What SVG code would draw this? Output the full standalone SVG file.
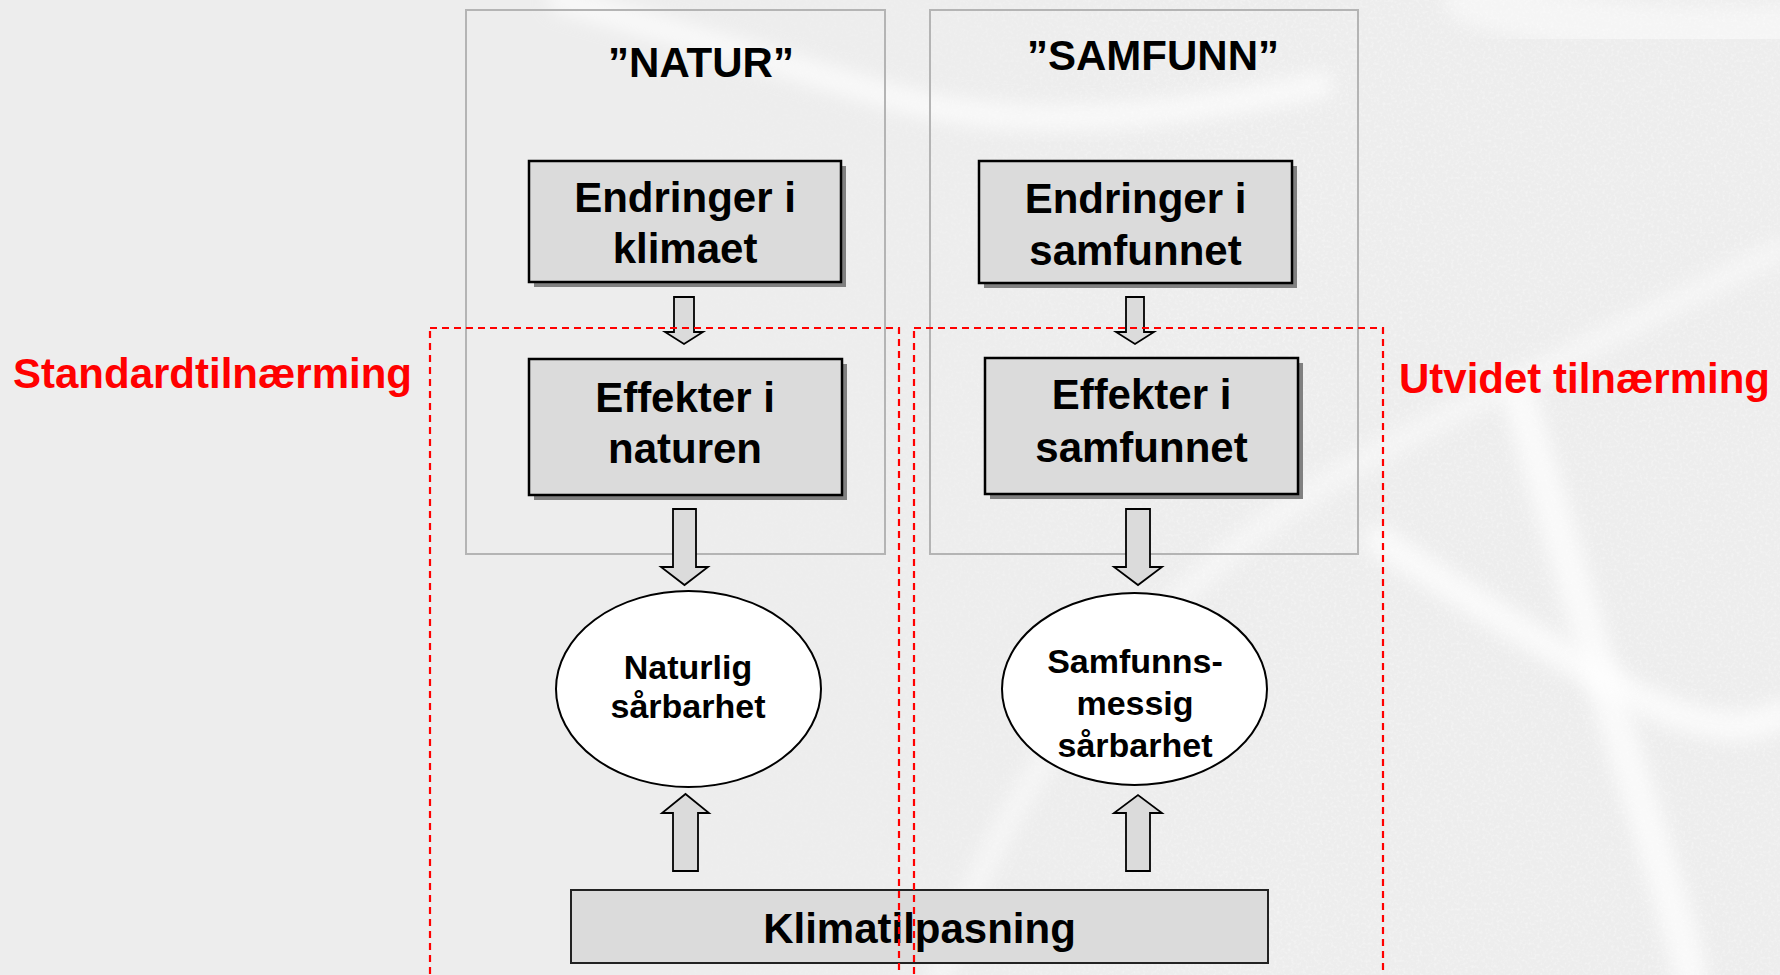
<svg xmlns="http://www.w3.org/2000/svg" width="1780" height="975" viewBox="0 0 1780 975">
  <defs>
    <filter id="soft" x="-20%" y="-20%" width="140%" height="140%">
      <feGaussianBlur stdDeviation="9"/>
    </filter>
    <filter id="grain" x="0" y="0" width="100%" height="100%">
      <feTurbulence type="fractalNoise" baseFrequency="0.35" numOctaves="2" seed="3" result="n"/>
      <feColorMatrix in="n" type="matrix" values="0 0 0 0 1  0 0 0 0 1  0 0 0 0 1  0 0 0 1.6 -0.75"/>
    </filter>
    <linearGradient id="fade" x1="0" y1="0" x2="1" y2="0">
      <stop offset="0" stop-color="#fff" stop-opacity="0"/>
      <stop offset="0.35" stop-color="#fff" stop-opacity="0"/>
      <stop offset="0.7" stop-color="#fff" stop-opacity="1"/>
      <stop offset="1" stop-color="#fff" stop-opacity="1"/>
    </linearGradient>
    <mask id="rightMask">
      <rect x="0" y="0" width="1780" height="975" fill="url(#fade)"/>
    </mask>
    <style>
      .txt { font-family: "Liberation Sans", Arial, Helvetica, sans-serif; font-weight: bold; }
      .lbl { font-size: 42px; fill: #000; text-anchor: middle; }
      .ell { font-size: 34px; fill: #000; text-anchor: middle; }
      .red { font-size: 42px; fill: #FF0000; }
      .frame { fill: none; stroke: #B4B4B4; stroke-width: 2; }
      .box { fill: #DBDBDB; stroke: #000; stroke-width: 2.5; }
      .shadow { fill: #808080; }
      .oval { fill: #FFFFFF; stroke: #000; stroke-width: 2; }
      .arrow { fill: #DBDBDB; stroke: #000; stroke-width: 1.8; stroke-linejoin: miter; }
      .dash { fill: none; stroke: #FF0000; stroke-width: 2.2; stroke-dasharray: 7 5; }
      .streak { fill: none; stroke: #FFFFFF; stroke-linecap: round; filter: url(#soft); }
    </style>
  </defs>

  <!-- background -->
  <g id="background">
    <rect x="0" y="0" width="1780" height="975" fill="#EDEDED"/>
    <rect x="0" y="0" width="1780" height="975" filter="url(#grain)" mask="url(#rightMask)" opacity="0.55"/>
    <path class="streak" d="M560,0 Q720,45 885,95 T1320,85" stroke-width="26" opacity="0.65"/>
    <path class="streak" d="M940,975 Q1000,800 1120,660 T1420,430 T1780,250" stroke-width="24" opacity="0.45"/>
    <path class="streak" d="M1380,541 Q1500,620 1613,684 T1780,715" stroke-width="30" opacity="0.7"/>
    <path class="streak" d="M1520,400 Q1590,640 1640,800 T1690,975" stroke-width="34" opacity="0.7"/>
    <path class="streak" d="M1470,0 Q1620,40 1780,30" stroke-width="50" opacity="0.45"/>
  </g>

  <!-- group frames -->
  <g id="frame-natur">
    <rect class="frame" x="466" y="10" width="419" height="544"/>
    <text class="txt lbl" x="701" y="77">”NATUR”</text>
  </g>
  <g id="frame-samfunn">
    <rect class="frame" x="930" y="10" width="428" height="544"/>
    <text class="txt lbl" x="1153" y="70">”SAMFUNN”</text>
  </g>

  <!-- nodes -->
  <g id="node-endringer-klimaet">
    <rect class="shadow" x="534" y="166" width="312" height="121"/>
    <rect class="box" x="529" y="161" width="312" height="121"/>
    <text class="txt lbl" x="685" y="212">Endringer i</text>
    <text class="txt lbl" x="685" y="263">klimaet</text>
  </g>
  <g id="node-effekter-naturen">
    <rect class="shadow" x="534" y="364" width="313" height="136"/>
    <rect class="box" x="529" y="359" width="313" height="136"/>
    <text class="txt lbl" x="685" y="412">Effekter i</text>
    <text class="txt lbl" x="685" y="463">naturen</text>
  </g>
  <g id="node-endringer-samfunnet">
    <rect class="shadow" x="984" y="166" width="313" height="122"/>
    <rect class="box" x="979" y="161" width="313" height="122"/>
    <text class="txt lbl" x="1135.5" y="213">Endringer i</text>
    <text class="txt lbl" x="1135.5" y="265">samfunnet</text>
  </g>
  <g id="node-effekter-samfunnet">
    <rect class="shadow" x="990" y="363" width="313" height="136"/>
    <rect class="box" x="985" y="358" width="313" height="136"/>
    <text class="txt lbl" x="1141.5" y="409">Effekter i</text>
    <text class="txt lbl" x="1141.5" y="462">samfunnet</text>
  </g>
  <g id="node-naturlig-sarbarhet">
    <ellipse class="oval" cx="688.5" cy="689" rx="132.5" ry="98"/>
    <text class="txt ell" x="688" y="679">Naturlig</text>
    <text class="txt ell" x="688" y="718">sårbarhet</text>
  </g>
  <g id="node-samfunnsmessig-sarbarhet">
    <ellipse class="oval" cx="1134.5" cy="689" rx="132.5" ry="96"/>
    <text class="txt ell" x="1135" y="673">Samfunns-</text>
    <text class="txt ell" x="1135" y="715">messig</text>
    <text class="txt ell" x="1135" y="757">sårbarhet</text>
  </g>
  <g id="node-klimatilpasning">
    <rect x="571" y="890" width="697" height="73" fill="#DBDBDB" stroke="#222" stroke-width="2"/>
    <text class="txt lbl" x="919.5" y="943">Klimatilpasning</text>
  </g>

  <!-- connectors -->
  <g id="connectors">
    <polygon class="arrow" points="674,297 694,297 694,332 703,332 684,344 665,332 674,332"/>
    <polygon class="arrow" points="1126,297 1144,297 1144,332 1154,332 1135,344 1116,332 1126,332"/>
    <polygon class="arrow" points="673,509 696,509 696,567 708,567 684.5,585 661,567 673,567"/>
    <polygon class="arrow" points="1126,509 1150,509 1150,567 1162,567 1138,585 1114,567 1126,567"/>
    <polygon class="arrow" points="673,871 698,871 698,813 709,813 685.5,794 662,813 673,813"/>
    <polygon class="arrow" points="1126,871 1150,871 1150,813 1162,813 1138,795 1114,813 1126,813"/>
  </g>

  <!-- approach regions -->
  <g id="region-standard">
    <rect class="dash" x="430" y="328" width="469" height="700"/>
    <text class="txt red" x="13" y="388">Standardtilnærming</text>
  </g>
  <g id="region-utvidet">
    <rect class="dash" x="914" y="328" width="469" height="700"/>
    <text class="txt red" x="1399" y="393">Utvidet tilnærming</text>
  </g>
</svg>
